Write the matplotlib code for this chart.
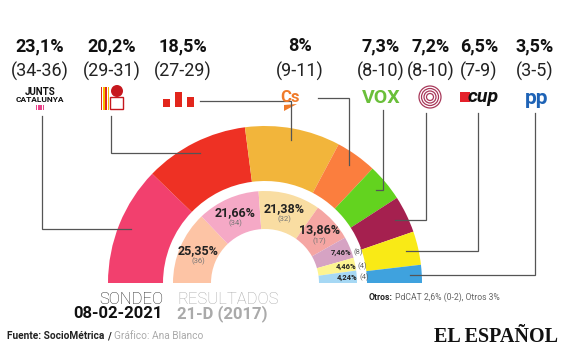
import numpy as np
import matplotlib
matplotlib.use('Agg')
import matplotlib.pyplot as plt
from matplotlib.patches import Wedge, Rectangle, Circle, Polygon

plt.rcParams['font.family'] = ['Roboto', 'DejaVu Sans']

# Sondeo 08-02-2021 (outer ring)
parties = ['JxCat', 'PSC', 'ERC', 'Cs', 'VOX', 'Comuns', 'CUP', 'PP']
poll_pct = [23.1, 20.2, 18.5, 8.0, 7.3, 7.2, 6.5, 3.5]
poll_seats = ['(34-36)', '(29-31)', '(27-29)', '(9-11)', '(8-10)', '(8-10)', '(7-9)', '(3-5)']
poll_colors = ['#F2406E', '#EE3124', '#F2B53B', '#FB7E3E', '#63D31F', '#A5204F', '#F9EA16', '#3FA2DE']

# Resultados 21-D 2017 (inner ring)
res_parties = ['Cs', 'JxCat', 'ERC', 'PSC', 'Comuns', 'CUP', 'PP']
res_pct = [25.35, 21.66, 21.38, 13.86, 7.46, 4.46, 4.24]
res_seats = [36, 34, 32, 17, 8, 4, 4]
res_colors = ['#FDC4A5', '#F5A9C6', '#F9DDA2', '#F5A6A3', '#D6A3C3', '#FDF491', '#A6D8F4']

fig = plt.figure(figsize=(5.76, 3.56), dpi=100)
ax = fig.add_axes([0, 0, 1, 1])
ax.set_xlim(0, 576)
ax.set_ylim(356, 0)
ax.axis('off')
renderer = fig.canvas.get_renderer()

cx, cy = 265, 283


def ring(values, colors, r_out, width):
    # y axis is inverted, so 180..360 is the upper half, left to right
    total = sum(values)
    edges = np.concatenate([[0], np.cumsum(values)]) / total * 180 + 180
    for t1, t2, c in zip(edges[:-1], edges[1:], colors):
        ax.add_patch(Wedge((cx, cy), r_out, t1, t2, width=width, facecolor=c, edgecolor='none'))
    return (edges[:-1] + edges[1:]) / 2


def point(angle, r):
    a = np.deg2rad(angle)
    return cx + r * np.cos(a), cy + r * np.sin(a)


def right_of(t, gap):
    # x (data units) just right of a text
    bb = t.get_window_extent(renderer)
    return ax.transData.inverted().transform((bb.x1, bb.y0))[0] + gap


mid_out = ring(poll_pct, poll_colors, 157, 55)
mid_in = ring(res_pct, res_colors, 92, 38)

# inner ring labels
for i, (p, s, a) in enumerate(zip(res_pct, res_seats, mid_in)):
    txt = f'{p:.2f}%'.replace('.', ',')
    if i < 4:
        x, y = point(a, 73)
        ax.text(x, y - 4, txt, ha='center', va='center', fontsize=9, fontweight='bold', color='#222222')
        ax.text(x, y + 7, f'({s})', ha='center', va='center', fontsize=5.5, color='#777777')
    else:
        x, y = point(a, 80)
        t = ax.text(x - 8, y, txt, ha='left', va='center', fontsize=5.5, fontweight='bold', color='#222222')
        ax.text(right_of(t, 2), y, f'({s})', ha='left', va='center', fontsize=5.5, color='#666666')

# top labels
label_x = [40, 112, 183, 300, 381, 431, 479, 535]
for x, p, s in zip(label_x, poll_pct, poll_seats):
    txt = (f'{p:g}%').replace('.', ',')
    ax.text(x, 46, txt, ha='center', va='center', fontsize=13, fontweight='bold', color='#111111')
    ax.text(x, 71, s, ha='center', va='center', fontsize=13, color='#222222')

# logo approximations
ax.text(40, 92, 'JUNTS', ha='center', va='center', fontsize=7, fontweight='bold', color='#111111')
ax.text(40, 100, 'CATALUNYA', ha='center', va='center', fontsize=6, fontweight='bold', color='#111111')
for k in range(4):
    ax.add_patch(Rectangle((36 + k * 2.2, 105), 1.3, 5, color='#E8438A', lw=0))
for k in range(4):
    ax.add_patch(Rectangle((101 + k * 2.2, 87), 1.3, 23, color='#F6C000' if k % 2 else '#E3261D', lw=0))
ax.add_patch(Circle((117, 91), 6, color='#C6171E', lw=0))
ax.add_patch(Rectangle((110, 97), 13, 12, facecolor='white', edgecolor='#C6171E', lw=1))
for k, h in enumerate([8, 15, 10]):
    ax.add_patch(Rectangle((163 + k * 12, 107 - h), 7, h, color='#E2261C', lw=0))
ax.text(290, 97, 'Cs', ha='center', va='center', fontsize=12, fontweight='bold', color='#F07A2A')
ax.add_patch(Polygon([[284, 105], [297, 104], [284, 111]], color='#F07A2A', lw=0))
ax.text(381, 98, 'VOX', ha='center', va='center', fontsize=14, fontweight='bold', color='#6ABF3A')
for r in [11, 8.5, 6, 3.5]:
    ax.add_patch(Circle((430, 97), r, fill=False, edgecolor='#A8385A', lw=0.9))
ax.text(483, 97, 'cup', ha='center', va='center', fontsize=14, fontweight='bold', style='italic', color='#111111')
ax.add_patch(Rectangle((460, 92), 10, 10, color='#E4202A', lw=0))
ax.text(537, 99, 'pp', ha='center', va='center', fontsize=15, fontweight='bold', color='#1E63B6')

# leader lines
lc, lw = '#555555', 0.9
vert_first = {'JxCat': (42, 116), 'PSC': (111, 116), 'VOX': (383, 110),
              'Comuns': (426, 113), 'CUP': (478, 113), 'PP': (535, 113)}
horiz_first = {'ERC': (200, 101), 'Cs': (318, 98)}
for name, a in zip(parties, mid_out):
    ex, ey = point(a, 145)
    if name in vert_first:
        sx, sy = vert_first[name]
        ax.plot([sx, sx, ex], [sy, ey, ey], color=lc, lw=lw, solid_joinstyle='miter')
    else:
        sx, sy = horiz_first[name]
        ax.plot([sx, ex, ex], [sy, sy, ey], color=lc, lw=lw, solid_joinstyle='miter')

# bottom labels
ax.text(163, 299, 'SONDEO', ha='right', va='center', fontsize=12, fontweight='light', color='#222222')
ax.text(163, 314, '08-02-2021', ha='right', va='center', fontsize=12, fontweight='bold', color='#111111')
ax.text(177, 299, 'RESULTADOS', ha='left', va='center', fontsize=12, fontweight='light', color='#AAAAAA')
ax.text(177, 314, '21-D (2017)', ha='left', va='center', fontsize=12, fontweight='bold', color='#AAAAAA')

t = ax.text(369, 297, 'Otros:', ha='left', va='center', fontsize=6.2, fontweight='bold', color='#222222')
ax.text(right_of(t, 2.5), 297, 'PdCAT 2,6% (0-2), Otros 3%', ha='left', va='center', fontsize=6.2,
        color='#666666')

t = ax.text(7, 336, 'Fuente: SocioMétrica', ha='left', va='center', fontsize=7.3, fontweight='bold',
            color='#222222')
t = ax.text(right_of(t, 3), 336, '/', ha='left', va='center', fontsize=7.3, fontweight='bold', color='#222222')
ax.text(right_of(t, 3), 336, 'Gráfico: Ana Blanco', ha='left', va='center', fontsize=7.3, color='#AAAAAA')
ax.text(558, 337, 'EL ESPAÑOL', ha='right', va='center', fontsize=14.5, family='Liberation Serif',
        fontweight='bold', color='#111111')

fig.savefig('out.png', dpi=100)
